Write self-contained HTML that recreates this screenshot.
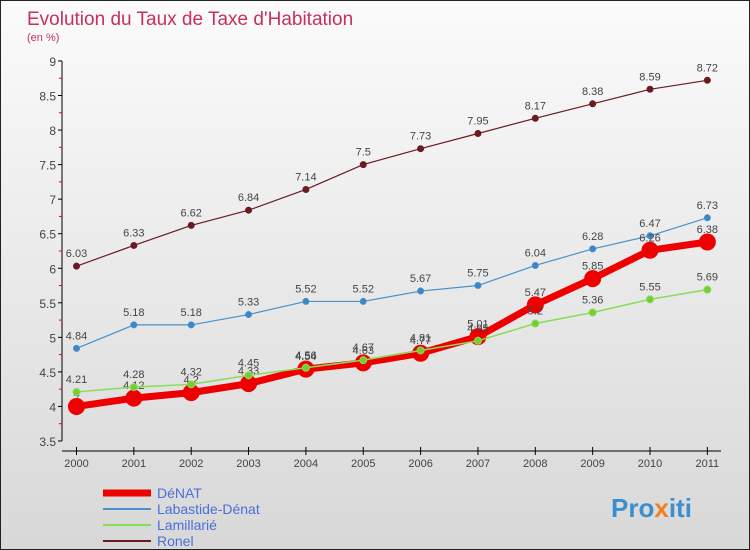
<!DOCTYPE html>
<html><head><meta charset="utf-8"><style>
body{margin:0}
#c{width:750px;height:550px;position:relative;box-sizing:border-box;border:1px solid #222;background:linear-gradient(#fbfbfb,#d8d8d8);font-family:"Liberation Sans",sans-serif;overflow:hidden}
svg{position:absolute;left:0;top:0}
</style></head><body>
<div id="c">
<svg id="s" width="750" height="550">
<text x="26" y="24" font-size="19" fill="#c8305a">Evolution du Taux de Taxe d'Habitation</text>
<text x="26" y="40" font-size="11" fill="#c8305a">(en %)</text>
<text x="610" y="516" font-size="26" font-weight="bold" fill="#3a8fd0">Pro<tspan fill="#f08020">x</tspan>iti</text>
</svg>
</div>
<script>
const years=["2000","2001","2002","2003","2004","2005","2006","2007","2008","2009","2010","2011"];
const yTicks=[3.5,4,4.5,5,5.5,6,6.5,7,7.5,8,8.5,9];
const denat=[4,4.12,4.2,4.33,4.54,4.63,4.77,5.01,5.47,5.85,6.26,6.38];
const labastide=[4.84,5.18,5.18,5.33,5.52,5.52,5.67,5.75,6.04,6.28,6.47,6.73];
const lamillarie=[4.21,4.28,4.32,4.45,4.56,4.67,4.81,4.95,5.2,5.36,5.55,5.69];
const ronel=[6.03,6.33,6.62,6.84,7.14,7.5,7.73,7.95,8.17,8.38,8.59,8.72];
const NS="http://www.w3.org/2000/svg";
const svg=document.getElementById('s');
const x=i=>75.5+i*57.35;
const y=v=>440-(v-3.5)*69.1;
function mk(t,a,p){const e=document.createElementNS(NS,t);for(const k in a)e.setAttribute(k,a[k]);(p||svg).appendChild(e);return e;}
// axes
let ax=mk('line',{x1:61,y1:60,x2:61,y2:440,stroke:'#000'});


let xa=mk('line',{x1:61,y1:450,x2:720,y2:450,stroke:'#000'});


yTicks.forEach((v,i)=>{
  mk('line',{x1:57,y1:y(v),x2:61,y2:y(v),stroke:'#000'});
  if(i<yTicks.length-1)mk('line',{x1:58,y1:y(v+0.25),x2:61,y2:y(v+0.25),stroke:'#e00'});
  const t=mk('text',{x:55,y:y(v)+5,'font-size':12,fill:'#444','text-anchor':'end'});
  t.textContent=String(v);
  
  
});
years.forEach((yr,i)=>{
  mk('line',{x1:x(i),y1:446,x2:x(i),y2:454,stroke:'#000'});
  const t=mk('text',{x:x(i),y:466,'font-size':11,fill:'#444','text-anchor':'middle'});
  t.textContent=yr;
  
  
});
function series(vals,color,w,r,name,dot){
  const g=mk('g',{});
  
  
  mk('polyline',{points:vals.map((v,i)=>x(i)+','+y(v)).join(' '),fill:'none',stroke:color,'stroke-width':w,'stroke-linejoin':'round'},g);
  vals.forEach((v,i)=>{
    const c=mk('circle',{cx:x(i),cy:y(v),r:r,fill:dot,stroke:color,'stroke-width':1},g);
    
    
    const t=mk('text',{x:x(i),y:y(v)-9,'font-size':11,fill:'#444','text-anchor':'middle'},g);
    t.textContent=String(v);
    
    
  });
}
series(ronel,'#6b1a22',1.2,3,'series-ronel','#6b1a22');
series(labastide,'#4a90c8',1.2,3,'series-labastide','#3a86c8');
series(denat,'#ee0000',7,8,'series-denat','#ee0000');
series(lamillarie,'#88dd55',1.5,3.5,'series-lamillarie','#77cc33');
const legend=[["DéNAT","#ee0000",7],["Labastide-Dénat","#4a90c8",2],["Lamillarié","#88dd55",2],["Ronel","#6b1a22",2]];
legend.forEach((l,i)=>{
  const g=mk('g',{});
  
  
  const yy=492+i*16;
  mk('line',{x1:102,y1:yy,x2:150,y2:yy,stroke:l[1],'stroke-width':l[2]},g);
  const t=mk('text',{x:156,y:yy+5,'font-size':14,fill:'#4a6fd8'},g);
  t.textContent=l[0];
});
</script>
</body></html>
